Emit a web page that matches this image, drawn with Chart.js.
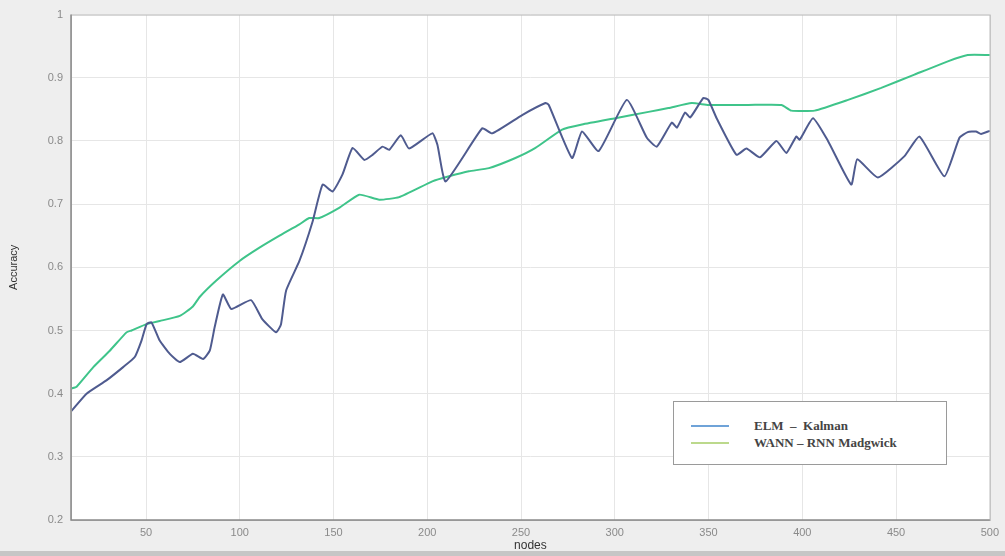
<!DOCTYPE html>
<html>
<head>
<meta charset="utf-8">
<script src="https://cdn.jsdelivr.net/npm/chart.js@4"></script>
<style>
  html,body{margin:0;padding:0;}
  body{width:1005px;height:556px;background:#eeeeee;position:relative;overflow:hidden;font-family:"Liberation Sans",Arial,sans-serif;}
  #wrap{position:absolute;left:0;top:0;width:1005px;height:556px;}
  #band{position:absolute;left:0;top:551px;width:1005px;height:5px;background:#c6c6c6;}
  #legend{position:absolute;left:673px;top:401px;width:272px;height:62px;background:#fff;border:1.5px solid #9a9a9a;}
  .row{position:absolute;left:0;height:16px;width:100%;}
  .row i{position:absolute;left:17px;top:7px;width:38px;height:2px;}
  .row span{position:absolute;left:80px;top:0;font:bold 13px "Liberation Serif","DejaVu Serif",serif;color:#444;line-height:16px;white-space:pre;}
</style>
</head>
<body>
<div id="wrap"><canvas id="c" width="1005" height="556"></canvas></div>
<div id="band"></div>
<div id="legend">
  <div class="row" style="top:16px"><i style="background:#6fa3d8"></i><span>ELM  –  Kalman</span></div>
  <div class="row" style="top:33px"><i style="background:#bcd98c"></i><span>WANN – RNN Madgwick</span></div>
</div>
<script>
const xTicks=[50,100,150,200,250,300,350,400,450,500];
const yTicks=[0.2,0.3,0.4,0.5,0.6,0.7,0.8,0.9,1];

const elmNodes=[10,11.2,18.3,28.9,37.8,44,47.6,50.3,52.9,57.3,62.7,68,75,80.4,84,86.6,91,95.5,106,112,119.4,122,124.7,131.8,138.9,144.2,149.5,154.8,160.2,166.4,170.8,176.1,179.7,185.9,190.3,202.7,205.4,209.8,229.3,234.6,250.6,263,264.8,277.2,282.5,291.4,306.4,317.1,322.4,330.4,333.1,337.5,340.2,347.2,349.9,354.3,364.9,370.2,377.4,386.2,391.5,396.8,398.6,405.7,413.7,426.1,429.3,440.3,454.5,462.5,475.8,483.8,488.2,492.6,495.3,500];
const elmAcc=[0.372,0.376,0.40,0.421,0.442,0.458,0.484,0.51,0.513,0.484,0.463,0.45,0.463,0.455,0.468,0.505,0.557,0.534,0.548,0.518,0.497,0.51,0.563,0.61,0.673,0.731,0.72,0.747,0.789,0.77,0.778,0.791,0.786,0.809,0.788,0.812,0.794,0.736,0.82,0.812,0.841,0.86,0.857,0.773,0.815,0.784,0.865,0.805,0.791,0.829,0.821,0.845,0.837,0.868,0.865,0.836,0.778,0.788,0.774,0.8,0.781,0.807,0.802,0.836,0.8,0.731,0.771,0.742,0.776,0.807,0.744,0.805,0.814,0.815,0.811,0.816];

const wannNodes=[10,13,21.9,30.7,39.6,42.3,50.3,57.3,68,75,78.6,87.5,99.9,110.5,121.2,131.8,137,142.4,153,163.7,174.4,185,202.7,211.6,222.2,232.9,247,257.7,271.9,282.5,300.3,318,328.6,341,349.9,371.2,388.9,394.1,406.6,424.4,442.1,459.8,477.6,488.2,500];
const wannAcc=[0.408,0.411,0.442,0.468,0.497,0.5,0.51,0.515,0.523,0.538,0.553,0.579,0.61,0.631,0.65,0.668,0.678,0.678,0.694,0.715,0.707,0.711,0.736,0.744,0.752,0.757,0.773,0.789,0.818,0.826,0.836,0.846,0.852,0.86,0.857,0.857,0.857,0.848,0.848,0.865,0.884,0.905,0.926,0.936,0.936];

const pts=(xs,ys)=>xs.map((x,i)=>({x,y:ys[i]}));

const frame={id:'frame',
  beforeDraw(ch){const a=ch.chartArea,c=ch.ctx;c.save();c.fillStyle='#fff';c.fillRect(a.left,a.top,a.right-a.left,a.bottom-a.top);c.restore();},
  afterDraw(ch){const a=ch.chartArea,c=ch.ctx;c.save();
    c.strokeStyle='#bdbdbd';c.lineWidth=1;c.strokeRect(a.left+0.5,a.top+0.5,a.right-a.left,a.bottom-a.top);
    c.strokeStyle='#8a8a8a';c.lineWidth=1.5;c.beginPath();c.moveTo(a.left,a.top);c.lineTo(a.left,a.bottom);c.lineTo(a.right,a.bottom);c.stroke();
    c.restore();}};

new Chart(document.getElementById('c'),{
  type:'line',
  data:{datasets:[
    {label:'ELM – Kalman',data:pts(elmNodes,elmAcc),borderColor:'#4f5b8f',borderWidth:2,pointRadius:0,tension:0.15},
    {label:'WANN – RNN Madgwick',data:pts(wannNodes,wannAcc),borderColor:'#3fc48a',borderWidth:2,pointRadius:0,tension:0.15}
  ]},
  options:{
    responsive:false,animation:false,
    layout:{padding:{left:0,top:13,right:13,bottom:0}},
    plugins:{legend:{display:false},tooltip:{enabled:false}},
    scales:{
      x:{type:'linear',min:10,max:500,
        afterBuildTicks:s=>{s.ticks=xTicks.map(v=>({value:v}));},
        afterFit:s=>{s.height=36;},
        grid:{color:'#e6e6e6',drawTicks:false},border:{display:false},
        ticks:{padding:6,color:'#8a8a8a',font:{size:11,family:'Liberation Sans'}},
        title:{display:true,text:'nodes',color:'#333',font:{size:12,family:'Liberation Sans'},padding:{top:0,bottom:3}}},
      y:{type:'linear',min:0.2,max:1,
        afterBuildTicks:s=>{s.ticks=yTicks.map(v=>({value:v}));},
        afterFit:s=>{s.width=71;},
        grid:{color:'#e6e6e6',drawTicks:false},border:{display:false},
        ticks:{padding:8,color:'#8a8a8a',font:{size:11,family:'Liberation Sans'},callback:v=>String(Math.round(v*10)/10)},
        title:{display:true,text:'Accuracy',color:'#333',font:{size:11,family:'Liberation Sans'},padding:{top:7,bottom:0}}}
    }
  },
  plugins:[frame]
});
</script>
</body>
</html>
